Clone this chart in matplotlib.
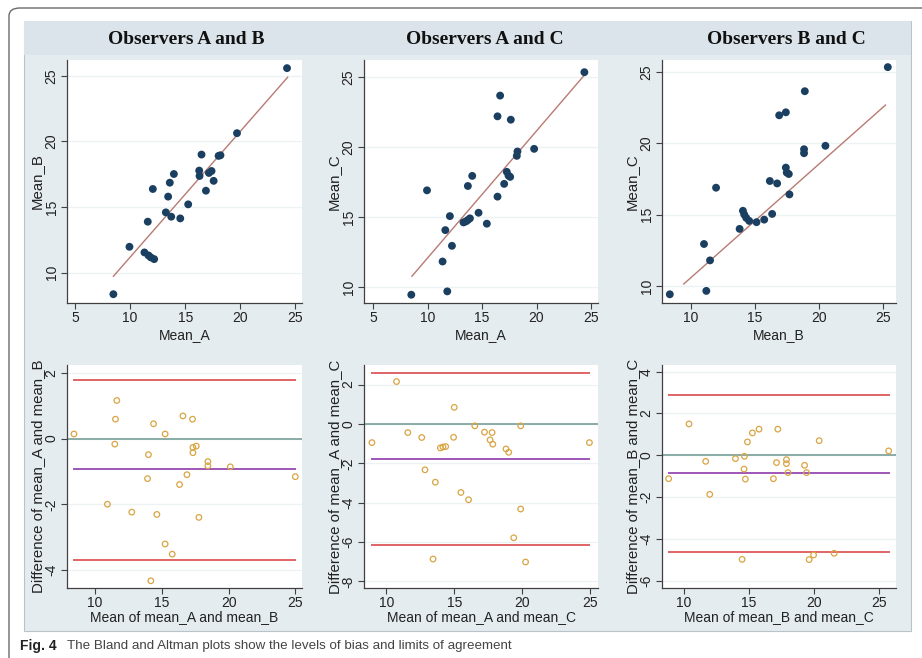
import matplotlib

matplotlib.use("Agg")
import matplotlib.pyplot as plt
from matplotlib.patches import Rectangle, FancyBboxPatch

W, H = 922, 658

# ---- top row: observer means ----
ab_a = [24.24, 8.48, 9.94, 11.30, 11.67, 11.88, 12.18, 11.60, 12.06, 13.24, 13.73, 13.45, 13.60,
        13.97, 14.55, 15.27, 16.27, 16.30, 16.48, 16.88, 17.15, 17.39, 17.58, 18.03, 18.20, 19.70]
ab_b = [25.58, 8.37, 11.98, 11.55, 11.32, 11.17, 11.04, 13.89, 16.38, 14.60, 14.27, 15.80, 16.86,
        17.52, 14.14, 15.21, 17.78, 17.37, 19.00, 16.25, 17.60, 17.75, 17.00, 18.90, 18.95, 20.63]
ab_fit = (1.61, 0.958)
ab_fit_x = [8.48, 24.30]

ac_a = [24.39, 8.51, 11.81, 11.38, 12.24, 11.63, 12.05, 9.95, 13.30, 13.52, 13.70, 13.89, 14.68, 15.44,
        13.70, 14.10, 16.42, 17.03, 17.27, 17.43, 17.58, 18.19, 18.25, 19.78, 16.42, 17.64, 16.66]
ac_c = [25.33, 9.45, 9.69, 11.82, 12.94, 14.06, 15.06, 16.90, 14.61, 14.68, 14.78, 14.90, 15.30, 14.52,
        17.21, 17.93, 16.45, 17.36, 18.22, 17.95, 17.86, 19.36, 19.67, 19.86, 22.18, 21.94, 23.66]
ac_fit = (3.00, 0.907)
ac_fit_x = [8.57, 24.45]

bc_b = [25.36, 8.34, 11.19, 11.01, 11.48, 11.95, 13.79, 14.05, 14.15, 14.31, 14.54, 15.11, 15.71,
        16.33, 16.15, 16.72, 17.40, 17.47, 17.63, 17.68, 16.88, 17.40, 18.82, 18.82, 18.88, 20.49]
bc_c = [25.35, 9.41, 9.65, 12.94, 11.79, 16.89, 14.00, 15.27, 15.01, 14.77, 14.56, 14.47, 14.65,
        15.05, 17.36, 17.19, 18.30, 17.95, 17.85, 16.42, 21.97, 22.18, 19.59, 19.31, 23.66, 19.83]
bc_fit = (2.62, 0.797)
bc_fit_x = [9.43, 25.18]

# ---- bottom row: Bland-Altman (mean, difference) ----
ba_ab_mean = [8.42, 11.63, 11.53, 11.48, 14.00, 14.38, 15.25, 16.58, 17.30, 17.33, 17.58, 17.33, 18.45,
              18.45, 20.13, 25.00, 16.88, 16.33, 13.93, 10.93, 12.75, 14.63, 17.78, 15.25, 15.78, 14.18]
ba_ab_diff = [0.14, 1.16, 0.59, -0.17, -0.49, 0.45, 0.14, 0.69, 0.59, -0.27, -0.23, -0.43, -0.70,
              -0.83, -0.86, -1.16, -1.10, -1.40, -1.22, -2.00, -2.24, -2.31, -2.40, -3.21, -3.52, -4.33]
ba_ab_limits = (-0.94, -3.70, 1.79)  # bias, lower, upper

ba_ac_mean = [8.95, 10.76, 11.59, 12.61, 12.85, 13.61, 13.44, 13.98, 14.17, 14.37, 15.00, 14.95, 15.49,
              16.05, 16.51, 17.22, 17.78, 17.63, 17.83, 18.80, 19.00, 19.88, 19.88, 19.37, 20.24, 24.93]
ba_ac_diff = [-0.95, 2.15, -0.44, -0.69, -2.33, -2.96, -6.86, -1.22, -1.17, -1.15, 0.84, -0.68, -3.48,
              -3.85, -0.10, -0.42, -0.44, -0.81, -1.03, -1.27, -1.44, -0.10, -4.32, -5.78, -7.01, -0.95]
ba_ac_limits = (-1.76, -6.17, 2.60)

ba_bc_mean = [8.85, 10.41, 11.69, 12.00, 13.97, 14.66, 14.63, 14.73, 14.89, 15.27, 15.78, 14.48, 16.88,
              17.12, 17.22, 17.88, 17.88, 18.00, 19.27, 19.42, 20.39, 19.62, 19.96, 21.54, 25.72]
ba_bc_diff = [-1.12, 1.50, -0.29, -1.87, -0.16, -0.05, -0.66, -1.14, 0.64, 1.07, 1.25, -4.98, -1.12,
              -0.35, 1.25, -0.21, -0.40, -0.83, -0.48, -0.83, 0.70, -4.99, -4.77, -4.69, 0.21]
ba_bc_limits = (-0.85, -4.61, 2.88)

titles = ["Observers A and B", "Observers A and C", "Observers B and C"]
caption_bold = "Fig. 4"
caption = "The Bland and Altman plots show the levels of bias and limits of agreement"

NAVY = "#1b3f60"
FIT = "#b87a72"
HOLLOW = "#d9a443"
RED = "#e06464"
PURPLE = "#a056b8"
ZERO = "#6e9890"
AXIS = "#404040"
GRID = "#edf2f4"
REGION = "#e5ecf0"
BAND = "#dae4ea"

SANS = "Liberation Sans"
plt.rcParams["axes.unicode_minus"] = False
plt.rcParams["font.family"] = SANS


def frac(x0, y0, x1, y1):
    # pixel box (top-left origin) -> figure fraction [left, bottom, width, height]
    return [x0 / W, 1 - y1 / H, (x1 - x0) / W, (y1 - y0) / H]


def style_axes(ax, xlim, ylim, xticks, yticks, xlabel, ylabel, xpad, ypad):
    ax.set_facecolor("white")
    ax.set_xlim(*xlim)
    ax.set_ylim(*ylim)
    ax.set_xticks(xticks)
    ax.set_yticks(yticks)
    for side in ("top", "right"):
        ax.spines[side].set_visible(False)
    for side in ("left", "bottom"):
        ax.spines[side].set_color(AXIS)
        ax.spines[side].set_linewidth(0.9)
    ax.tick_params(direction="out", length=4, width=0.8, color=AXIS, labelsize=10,
                   labelcolor="#222222", pad=2)
    ax.tick_params(axis="y", labelrotation=90)
    for lab in ax.get_yticklabels():
        lab.set_va("center")
    for y in yticks:
        ax.axhline(y, color=GRID, lw=1.0, zorder=0)
    ax.set_xlabel(xlabel, fontsize=10, labelpad=xpad, color="#222222")
    ax.set_ylabel(ylabel, fontsize=10.8, labelpad=ypad, color="#222222")


fig = plt.figure(figsize=(W / 100, H / 100), dpi=100)

# outer frame and graph region
fig.add_artist(FancyBboxPatch((9 / W, 1 - 700 / H), 960 / W, 692 / H,
                              boxstyle="round,pad=0,rounding_size=0.012",
                              transform=fig.transFigure, facecolor="white",
                              edgecolor="#6a6a6a", lw=1.0, zorder=-3))
fig.add_artist(Rectangle(frac(24, 21, 911, 631)[:2], (911 - 24) / W, (631 - 21) / H,
                         transform=fig.transFigure, facecolor=REGION,
                         edgecolor="#b9c3c9", lw=0.8, zorder=-2))
fig.add_artist(Rectangle(frac(24, 21, 911, 55)[:2], (911 - 24) / W, (55 - 21) / H,
                         transform=fig.transFigure, facecolor=BAND,
                         edgecolor="none", zorder=-1))

cols = [(67, 302), (364, 598), (662, 896)]
title_x = [186, 485, 786]

top = [
    (ab_a, ab_b, ab_fit, ab_fit_x, (4.27, 25.6), (7.7, 26.2), [5, 10, 15, 20, 25], "Mean_A", "Mean_B"),
    (ac_a, ac_c, ac_fit, ac_fit_x, (4.17, 25.64), (8.86, 26.2), [5, 10, 15, 20, 25], "Mean_A", "Mean_C"),
    (bc_b, bc_c, bc_fit, bc_fit_x, (7.73, 26.0), (8.8, 25.85), [10, 15, 20, 25], "Mean_B", "Mean_C"),
]
for (x0, x1), (xs, ys, fit, fx, xlim, ylim, xt, xl, yl) in zip(cols, top):
    ax = fig.add_axes(frac(x0, 60, x1, 303))
    style_axes(ax, xlim, ylim, xt, [10, 15, 20, 25], xl, yl, 2, 1)
    b0, b1 = fit
    ax.plot(fx, [b0 + b1 * v for v in fx], color=FIT, lw=1.0, zorder=2)
    ax.scatter(xs, ys, s=32, color=NAVY, edgecolors="none", zorder=3)

bottom = [
    (ba_ab_mean, ba_ab_diff, ba_ab_limits, (7.9, 25.5), (-4.55, 2.24), [-4, -2, 0, 2],
     "Mean of mean_A and mean_B", "Difference of mean_A and mean_B"),
    (ba_ac_mean, ba_ac_diff, ba_ac_limits, (8.37, 25.56), (-8.33, 2.99), [-8, -6, -4, -2, 0, 2],
     "Mean of mean_A and mean_C", "Difference of mean_A and mean_C"),
    (ba_bc_mean, ba_bc_diff, ba_bc_limits, (8.34, 26.28), (-6.35, 4.32), [-6, -4, -2, 0, 2, 4],
     "Mean of mean_B and mean_C", "Difference of mean_B and mean_C"),
]
for (x0, x1), (ms, ds, lim, xlim, ylim, yt, xl, yl) in zip(cols, bottom):
    ax = fig.add_axes(frac(x0, 365, x1, 588))
    style_axes(ax, xlim, ylim, [10, 15, 20, 25], yt, xl, yl, 0, 0)
    lo, hi = min(ms), max(ms)
    bias, lower, upper = lim
    ax.plot([lo, hi], [upper, upper], color=RED, lw=1.4, zorder=2)
    ax.plot([lo, hi], [lower, lower], color=RED, lw=1.4, zorder=2)
    ax.plot([lo, hi], [bias, bias], color=PURPLE, lw=1.4, zorder=2)
    ax.axhline(0, color=ZERO, lw=1.1, zorder=2)
    ax.scatter(ms, ds, s=16, facecolors="none", edgecolors=HOLLOW, linewidths=0.9, zorder=3)

for tx, title in zip(title_x, titles):
    fig.text(tx / W, 1 - 40 / H, title, ha="center", va="center", fontsize=14,
             fontweight="bold", family="Liberation Serif", color="#111111")

fig.text(20 / W, 1 - 646 / H, caption_bold, ha="left", va="center", fontsize=10,
         fontweight="bold", color="#222222")
fig.text(67 / W, 1 - 646 / H, caption, ha="left", va="center", fontsize=9.6,
         color="#444444")

fig.savefig("out.png", dpi=100)
